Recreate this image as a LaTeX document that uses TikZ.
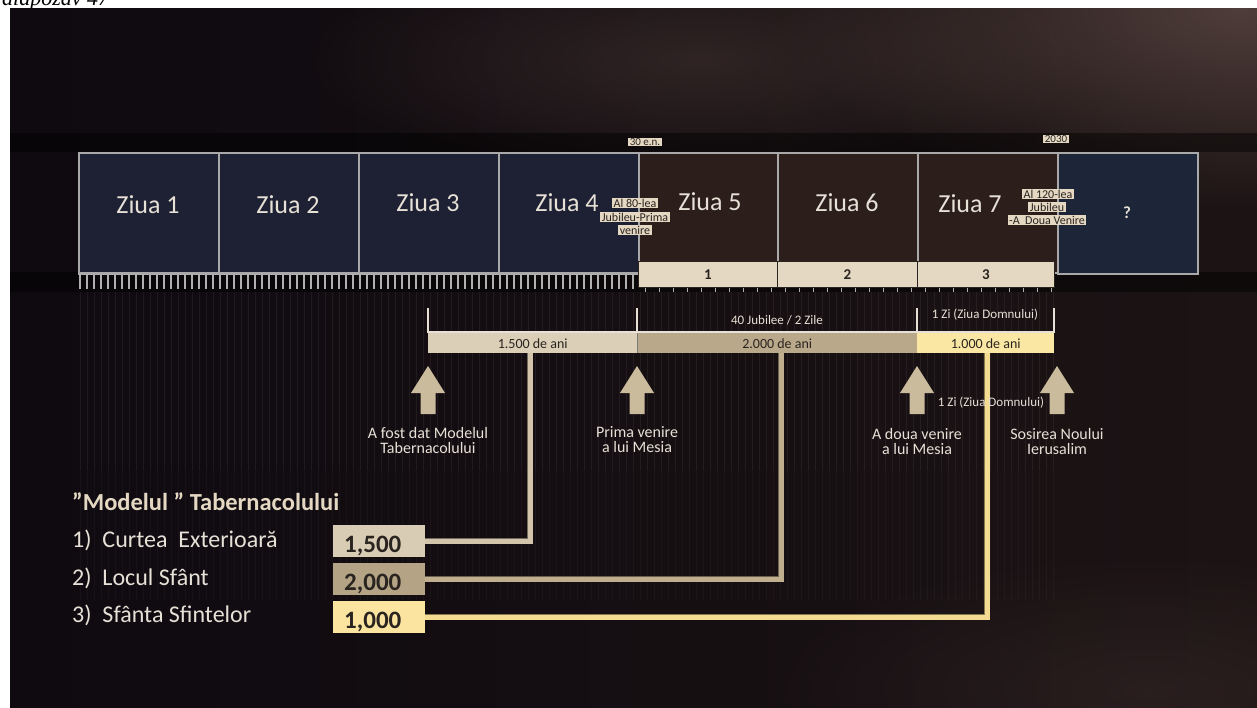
\documentclass[tikz,border=0pt]{standalone}
\usepackage{fontspec}
\setmainfont{Carlito}
\newfontfamily\serifit{Liberation Serif}
\usetikzlibrary{fadings,calc}
\tikzfading[name=glowfade, inner color=transparent!0, outer color=transparent!100]
\definecolor{bgL}{HTML}{0E0A10}
\definecolor{bgR}{HTML}{1C1314}
\definecolor{glowc}{HTML}{574440}
\definecolor{navybox}{HTML}{1E2133}
\definecolor{brownbox}{HTML}{2B1E1B}
\definecolor{qbox}{HTML}{1D2639}
\definecolor{boxline}{HTML}{A9A9A9}
\definecolor{cream}{HTML}{E4D8C2}
\definecolor{barA}{HTML}{DCCFB7}
\definecolor{barB}{HTML}{B9A88A}
\definecolor{barC}{HTML}{F9E7A3}
\definecolor{keyA}{HTML}{D8CCB4}
\definecolor{keyB}{HTML}{B4A385}
\definecolor{keyC}{HTML}{FBE49F}
\definecolor{lineA}{HTML}{D2C5AB}
\definecolor{lineB}{HTML}{C0AF8F}
\definecolor{lineC}{HTML}{F3DC92}
\definecolor{arrowc}{HTML}{CBBB9D}
\definecolor{softw}{HTML}{E6E0D6}
\definecolor{darktxt}{HTML}{2A2420}
\definecolor{tickc}{HTML}{B0B0B0}
\tikzset{
  daybox/.style={draw=boxline, line width=1.5pt, minimum width=140pt, minimum height=120pt, anchor=north west, inner sep=0pt},
  daylab/.style={text=softw, font=\fontsize{26}{26}\selectfont},
  tag/.style={fill=cream, text=darktxt, inner xsep=1.5pt, inner ysep=0.6pt, font=\fontsize{12}{12}\selectfont},
  numbar/.style={fill=cream, draw=darktxt, line width=1pt, minimum height=26pt, anchor=north west, inner sep=0pt, text=darktxt, font=\bfseries\fontsize{15}{15}\selectfont},
  yearbar/.style={minimum height=20pt, anchor=north west, inner sep=0pt, text=darktxt, font=\fontsize{14}{14}\selectfont},
  keybox/.style={minimum width=92pt, minimum height=32pt, anchor=north west, inner xsep=11pt, inner ysep=3pt, text height=24pt, text depth=2pt, text width=70pt, align=left, text=darktxt, font=\bfseries\fontsize{25}{25}\selectfont},
  keytext/.style={anchor=base west, text=softw, font=\fontsize{24}{24}\selectfont, inner sep=0pt},
  arrlab/.style={text=softw, align=center, font=\fontsize{16}{15}\selectfont},
  smalltxt/.style={text=softw, font=\fontsize{13}{13}\selectfont},
  brack/.style={draw=softw, line width=2pt},
  link/.style={line width=5pt, line join=miter, preaction={draw=#1!55!black, line width=6.5pt}},
}
\begin{document}
\begin{tikzpicture}[x=1pt,y=-1pt]
\useasboundingbox (0,0) rectangle (1257,707);
\fill[white] (0,0) rectangle (1257,707);
\node[anchor=base west, inner sep=0pt, font=\serifit\itshape\fontsize{22}{22}\selectfont] (hdr) at (2,5) {alapozav 47};
% slide background
\shade[left color=bgL, right color=bgR] (10,8) rectangle (1257,707);
\begin{scope}
  \clip (10,8) rectangle (1257,707);
  \fill[glowc, path fading=glowfade, opacity=0.85] (1240,10) ellipse (460 and 200);
  \fill[glowc, path fading=glowfade, opacity=0.4] (700,60) ellipse (400 and 120);
  \fill[glowc, path fading=glowfade, opacity=0.25] (1150,690) ellipse (380 and 140);
  \fill[black, opacity=0.45] (10,133) rectangle (1257,152);
  \fill[black, opacity=0.45] (10,272) rectangle (1257,292);
  % faint vertical stripes
  \foreach \x in {80,87,...,1057} {
    \draw[white, opacity=0.06, line width=0.8pt] (\x,292) -- (\x,470);
    \draw[white, opacity=0.03, line width=0.8pt] (\x,470) -- (\x,600);
  }
\end{scope}
% ruler ticks
\draw[tickc, line width=1.2pt] (78,274) -- (638,274);
\foreach \x in {80,87,...,636} \draw[tickc, line width=1.1pt] (\x,274) -- (\x,289);
\foreach \x in {645,659,...,1054} \draw[tickc, line width=1pt] (\x,288) -- (\x,292);
% day boxes
\node[daybox, fill=navybox] (d1) at (78,152) {};
\node[daybox, fill=navybox] (d2) at (218,152) {};
\node[daybox, fill=navybox] (d3) at (358,152) {};
\node[daybox, fill=navybox] (d4) at (498,152) {};
\node[daybox, fill=brownbox] (d5) at (638,152) {};
\node[daybox, fill=brownbox] (d6) at (777,152) {};
\node[daybox, fill=brownbox] (d7) at (917,152) {};
\node[daybox, fill=qbox, minimum width=140pt, minimum height=121pt] (dq) at (1057,152) {};
\node[daylab] (l1) at (148,205) {Ziua 1};
\node[daylab] (l2) at (288,205) {Ziua 2};
\node[daylab] (l3) at (428,203) {Ziua 3};
\node[daylab] (l4) at (567,203) {Ziua 4};
\node[daylab] (l5) at (710,202) {Ziua 5};
\node[daylab] (l6) at (847,203) {Ziua 6};
\node[daylab] (l7) at (970,204) {Ziua 7};
\node[text=softw, font=\bfseries\fontsize{17}{17}\selectfont] (lq) at (1127,213) {?};
% numbered bar
\node[numbar, minimum width=139pt] (n1) at (638,261) {1};
\node[numbar, minimum width=140pt] (n2) at (777,261) {2};
\node[numbar, minimum width=137pt] (n3) at (917,261) {3};
% date tags
\node[tag, font=\fontsize{11}{11}\selectfont] (t30) at (645,142) {30 e.n.};
\node[tag, font=\fontsize{11}{11}\selectfont] (t2030) at (1056,139) {2030};
\node[tag] (j80a) at (635,203) {Al 80-lea};
\node[tag] (j80b) at (635,217) {Jubileu-Prima};
\node[tag] (j80c) at (635,230) {venire};
\node[tag] (j120a) at (1048,194) {Al 120-lea};
\node[tag] (j120b) at (1047,207) {Jubileu};
\node[tag] (j120c) at (1047,220) {-A\ \ Doua Venire};
% brackets
\coordinate (k0) at (428,308);
\coordinate (k1) at (637,308);
\coordinate (k2) at (917,308);
\coordinate (k3) at (1054,308);
\draw[brack] (k0) -- ++(0,24) -- ($(k3)+(0,24)$) -- (k3);
\draw[brack] (k1) -- ++(0,24);
\draw[brack] (k2) -- ++(0,24);
\node[smalltxt] (jz) at (777,320) {40 Jubilee / 2 Zile};
\node[smalltxt] (zd1) at (985,315) {1 Zi (Ziua Domnului)};
% year bars
\node[yearbar, fill=barA, minimum width=209pt] (b15) at (428,333) {1.500 de ani};
\node[yearbar, fill=barB, minimum width=280pt] (b20) at (637,333) {2.000 de ani};
\node[yearbar, fill=barC, minimum width=137pt] (b10) at (917,333) {1.000 de ani};
\draw[darktxt!60, line width=0.8pt] (b15.north east) -- (b15.south east);
% legend
\node[anchor=base west, inner sep=0pt, text=cream, font=\bfseries\fontsize{24.5}{24.5}\selectfont] (ttl) at (72,510) {”Modelul ” Tabernacolului};
\node[keytext] (i1) at (72,547) {1)\ \ Curtea\ \ Exterioară};
\node[keytext] (i2) at (72,585) {2)\ \ Locul Sfânt};
\node[keytext] (i3) at (72,622) {3)\ \ Sfânta Sfintelor};
\node[keybox, fill=keyA] (q15) at (333,525) {1,500};
\node[keybox, fill=keyB] (q20) at (333,563) {2,000};
\node[keybox, fill=keyC] (q10) at (333,601) {1,000};
% connectors
\coordinate (c15) at (530,353);
\coordinate (c20) at (781,353);
\coordinate (c10) at (987,353);
\draw[link=lineA, lineA] (c15) |- (q15.east);
\draw[link=lineB, lineB] (c20) |- (q20.east);
\draw[link=lineC, lineC] (c10) |- (q10.east);
% up arrows
\foreach \ax in {428,637,917,1057}
  \fill[arrowc] (\ax,366) -- (\ax+17,393) -- (\ax+7.5,393) -- (\ax+7.5,414) -- (\ax-7.5,414) -- (\ax-7.5,393) -- (\ax-17,393) -- cycle;
\node[arrlab] (a1) at (428,440) {A fost dat Modelul\\Tabernacolului};
\node[arrlab] (a2) at (637,440) {Prima venire\\a lui Mesia};
\node[arrlab] (a3) at (917,441) {A doua venire\\a lui Mesia};
\node[arrlab] (a4) at (1057,441) {Sosirea Noului\\Ierusalim};
\node[smalltxt] (zd2) at (991,403) {1 Zi (Ziua Domnului)};
\end{tikzpicture}
\end{document}
